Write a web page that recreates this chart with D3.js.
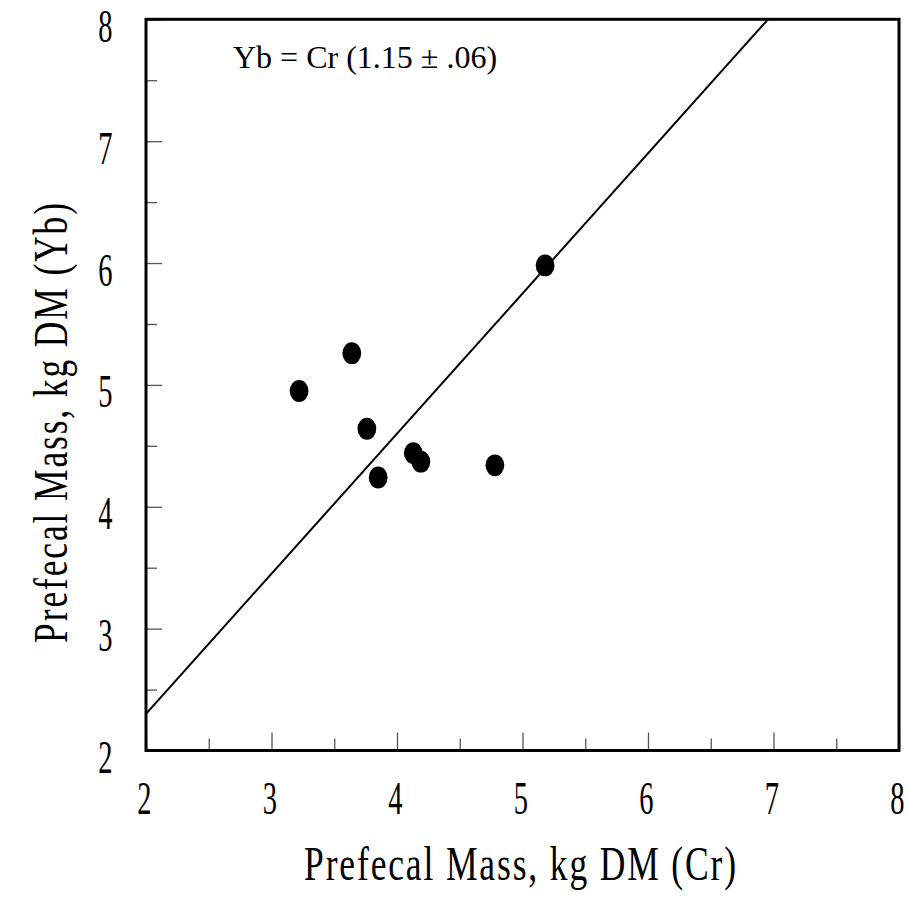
<!DOCTYPE html>
<html>
<head>
<meta charset="utf-8">
<script src="https://cdn.jsdelivr.net/npm/d3@7"></script>
<style>
  body { margin: 0; background: #fff; }
  text { font-family: "Liberation Serif", "Times New Roman", serif; fill: #000; }
</style>
</head>
<body>
<svg id="chart" width="907" height="910"></svg>
<script>
// data
var crValues = [3.22, 3.64, 3.76, 3.85, 4.13, 4.19, 4.78, 5.18];
var ybValues = [4.95, 5.26, 4.64, 4.24, 4.44, 4.37, 4.34, 5.98];
var majorTicks = [2, 3, 4, 5, 6, 7, 8];
var minorTicks = [2.5, 3.5, 4.5, 5.5, 6.5, 7.5];
var slope = 1.15;
var equationLabel = "Yb = Cr (1.15 \u00b1 .06)";
var xTitle = "Prefecal Mass, kg DM (Cr)";
var yTitle = "Prefecal Mass, kg DM (Yb)";

var svg = d3.select("#chart");
var margin = {left: 146, top: 19.3, right: 899, bottom: 750.5};

var x = d3.scaleLinear().domain([2, 8]).range([margin.left, margin.right]);
var y = d3.scaleLinear().domain([2, 8]).range([margin.bottom, margin.top]);

// minor ticks (inside)
svg.append("g")
  .attr("transform", "translate(0," + margin.bottom + ")")
  .call(d3.axisBottom(x).tickValues(minorTicks).tickSize(-12).tickFormat(""))
  .call(function(g) { g.select(".domain").remove(); });

svg.append("g")
  .attr("transform", "translate(" + margin.left + ",0)")
  .call(d3.axisLeft(y).tickValues(minorTicks).tickSize(-11).tickFormat(""))
  .call(function(g) { g.select(".domain").remove(); });

// major ticks + labels
var gx = svg.append("g")
  .attr("transform", "translate(0," + margin.bottom + ")")
  .call(d3.axisBottom(x).tickValues(majorTicks).tickSize(-18).tickFormat(d3.format("d")));
gx.select(".domain").remove();
gx.selectAll("text")
  .attr("y", 0).attr("dy", 0)
  .attr("transform", "translate(-2,63) scale(0.62,1)")
  .attr("text-anchor", "middle")
  .style("font-size", "46px")
  .style("font-family", "'Liberation Serif', serif");

var gy = svg.append("g")
  .attr("transform", "translate(" + margin.left + ",0)")
  .call(d3.axisLeft(y).tickValues(majorTicks).tickSize(-16).tickFormat(d3.format("d")));
gy.select(".domain").remove();
gy.selectAll("text")
  .attr("x", 0).attr("dy", 0)
  .attr("transform", "translate(-40.5,22) scale(0.62,1)")
  .attr("text-anchor", "middle")
  .style("font-size", "46px")
  .style("font-family", "'Liberation Serif', serif");

svg.selectAll(".tick line").attr("stroke", "#555").attr("stroke-width", 1.3);

// frame
svg.append("rect")
  .attr("x", x(2)).attr("y", y(8))
  .attr("width", x(8) - x(2)).attr("height", y(2) - y(8))
  .attr("fill", "none").attr("stroke", "#000").attr("stroke-width", 3);

// regression line through origin, clipped to plot box
var lineEnds = [[2, 2 * slope], [8 / slope, 8]];
svg.append("path")
  .attr("d", d3.line().x(function(d) { return x(d[0]); }).y(function(d) { return y(d[1]); })(lineEnds))
  .attr("fill", "none").attr("stroke", "#000").attr("stroke-width", 2);

// points
svg.selectAll(".pt")
  .data(crValues.map(function(v, i) { return [v, ybValues[i]]; }))
  .enter().append("ellipse")
  .attr("class", "pt")
  .attr("cx", function(d) { return x(d[0]); })
  .attr("cy", function(d) { return y(d[1]); })
  .attr("rx", 9.4).attr("ry", 10.9)
  .attr("fill", "#000");

// equation
svg.append("text")
  .attr("x", 233).attr("y", 68)
  .style("font-size", "32px")
  .text(equationLabel);

// axis titles
svg.append("text")
  .attr("transform", "translate(521,880) scale(0.74,1)")
  .attr("text-anchor", "middle")
  .style("font-size", "48px")
  .style("letter-spacing", "2.5px")
  .text(xTitle);

svg.append("text")
  .attr("transform", "translate(67,422) rotate(-90) scale(0.74,1)")
  .attr("text-anchor", "middle")
  .style("font-size", "48px")
  .style("letter-spacing", "2.5px")
  .text(yTitle);
</script>
</body>
</html>
